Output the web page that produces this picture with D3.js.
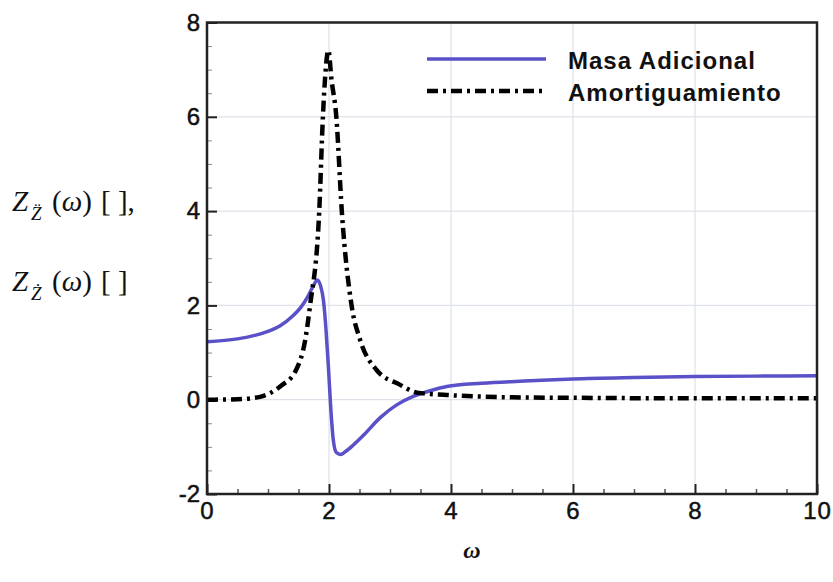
<!DOCTYPE html>
<html>
<head>
<meta charset="utf-8">
<script src="https://cdn.jsdelivr.net/npm/d3@7"></script>
<style>
  body { margin: 0; background: #fff; }
  svg { display: block; }
</style>
</head>
<body>
<svg id="chart"></svg>
<script>
// datos
const omegaMasa = [0, 0.5, 0.8, 1.0, 1.2, 1.4, 1.55, 1.65, 1.73, 1.81, 1.86, 1.91, 1.95, 1.99, 2.03, 2.07, 2.12, 2.19, 2.27, 2.4, 2.56, 2.84, 3.11, 3.38, 3.66, 3.93, 4.5, 5.3, 6, 7, 8, 9, 10];
const masaAdicional = [1.23, 1.29, 1.37, 1.45, 1.57, 1.77, 1.98, 2.18, 2.38, 2.54, 2.42, 2.1, 1.5, 0.7, -0.2, -0.85, -1.12, -1.16, -1.1, -0.96, -0.76, -0.38, -0.11, 0.07, 0.19, 0.28, 0.35, 0.4, 0.44, 0.47, 0.49, 0.5, 0.51];

const omegaAmort = [0, 0.5, 0.87, 1.05, 1.22, 1.46, 1.61, 1.69, 1.84, 1.9, 1.94, 1.99, 2.04, 2.12, 2.21, 2.37, 2.51, 2.78, 3.16, 3.44, 3.93, 5, 6, 8, 10];
const amortiguamiento = [0, 0.01, 0.06, 0.15, 0.3, 0.63, 1.27, 2.0, 4.0, 6.0, 6.9, 7.41, 6.8, 6.0, 4.0, 2.0, 1.27, 0.63, 0.32, 0.15, 0.1, 0.05, 0.04, 0.03, 0.03];

const xTicks = [0, 2, 4, 6, 8, 10];
const yTicks = [-2, 0, 2, 4, 6, 8];
const seriesNames = ["Masa Adicional", "Amortiguamiento"];

const width = 833;
const height = 582;
const margin = { top: 22.5, right: 16, bottom: 88, left: 207 };

const svg = d3.select("#chart").attr("width", width).attr("height", height);
svg.append("rect").attr("width", width).attr("height", height).attr("fill", "#fff");

const x = d3.scaleLinear().domain([0, 10]).range([margin.left, width - margin.right]);
const y = d3.scaleLinear().domain([-2, 8]).range([height - margin.bottom, margin.top]);

const blue = "#5a50c8";
const dashDot = "11,5,3,5";
const fmt = d => String(d); // guion normal, no signo menos

// rejilla
const grid = svg.append("g").attr("stroke", "#dde2e8").attr("stroke-width", 1.2);
grid.selectAll(".gx").data(xTicks.slice(1, -1)).join("line")
  .attr("x1", d => x(d)).attr("x2", d => x(d))
  .attr("y1", y(8)).attr("y2", y(-2));
grid.selectAll(".gy").data(yTicks.slice(1, -1)).join("line")
  .attr("x1", x(0)).attr("x2", x(10))
  .attr("y1", d => y(d)).attr("y2", d => y(d));

// ticks menores
const minorX = d3.range(0.5, 10, 0.5).filter(v => v % 2 !== 0);
const minorY = d3.range(-1.5, 8, 0.5).filter(v => v % 2 !== 0);

svg.append("g")
  .attr("transform", `translate(0,${y(-2)})`)
  .call(d3.axisBottom(x).tickValues(minorX).tickSize(-5).tickFormat(""))
  .call(g => g.select(".domain").remove())
  .call(g => g.selectAll("line").attr("stroke", "#555").attr("stroke-width", 1.5));

svg.append("g")
  .attr("transform", `translate(${x(0)},0)`)
  .call(d3.axisLeft(y).tickValues(minorY).tickSize(-5).tickFormat(""))
  .call(g => g.select(".domain").remove())
  .call(g => g.selectAll("line").attr("stroke", "#888").attr("stroke-width", 1));

// ejes principales
const tickText = g => g.selectAll("text")
  .attr("fill", "#111")
  .attr("stroke", "#111")
  .attr("stroke-width", 0.5)
  .style("font-family", "'Liberation Sans', Arial, sans-serif")
  .style("font-size", "24px");

svg.append("g")
  .attr("transform", `translate(0,${y(-2)})`)
  .call(d3.axisBottom(x).tickValues(xTicks).tickSize(-10).tickPadding(8).tickFormat(fmt))
  .call(g => g.select(".domain").remove())
  .call(g => g.selectAll("line").attr("stroke", "#222").attr("stroke-width", 2))
  .call(tickText)
  .call(g => g.selectAll("text").style("letter-spacing", "1px"));

svg.append("g")
  .attr("transform", `translate(${x(0)},0)`)
  .call(d3.axisLeft(y).tickValues(yTicks).tickSize(-10).tickPadding(7).tickFormat(fmt))
  .call(g => g.select(".domain").remove())
  .call(g => g.selectAll("line").attr("stroke", "#222").attr("stroke-width", 2))
  .call(tickText);

// curvas
const lineMasa = d3.line()
  .x((d, i) => x(omegaMasa[i]))
  .y(d => y(d))
  .curve(d3.curveMonotoneX);

const lineAmort = d3.line()
  .x((d, i) => x(omegaAmort[i]))
  .y(d => y(d))
  .curve(d3.curveMonotoneX);

svg.append("path")
  .datum(masaAdicional)
  .attr("d", lineMasa)
  .attr("fill", "none")
  .attr("stroke", blue)
  .attr("stroke-width", 3.5)
  .attr("stroke-linejoin", "round");

svg.append("path")
  .datum(amortiguamiento)
  .attr("d", lineAmort)
  .attr("fill", "none")
  .attr("stroke", "#000")
  .attr("stroke-width", 4.5)
  .attr("stroke-dasharray", dashDot);

// marco
svg.append("rect")
  .attr("x", x(0)).attr("y", y(8))
  .attr("width", x(10) - x(0)).attr("height", y(-2) - y(8))
  .attr("fill", "none")
  .attr("stroke", "#222")
  .attr("stroke-width", 2.5);

// leyenda
const legend = svg.append("g").attr("transform", "translate(427,59)");
const legendItems = legend.selectAll("g").data(seriesNames).join("g")
  .attr("transform", (d, i) => `translate(0,${i * 32})`);

legendItems.append("line")
  .attr("x1", 0).attr("x2", 119)
  .attr("stroke", (d, i) => i === 0 ? blue : "#000")
  .attr("stroke-width", (d, i) => i === 0 ? 3.5 : 4.5)
  .attr("stroke-dasharray", (d, i) => i === 0 ? null : dashDot);

legendItems.append("text")
  .attr("x", 141)
  .attr("y", 10)
  .attr("fill", "#111")
  .style("font-family", "'Liberation Sans', Arial, sans-serif")
  .style("font-size", "24px")
  .style("font-weight", "bold")
  .style("letter-spacing", "1px")
  .text(d => d);

// etiquetas de los ejes
const serif = "'Liberation Serif', 'DejaVu Serif', serif";

function yLabel(baseline, sub, comma) {
  const t = svg.append("text")
    .attr("y", baseline)
    .attr("fill", "#111")
    .style("font-family", serif)
    .style("font-size", "29px");
  t.append("tspan").attr("x", 12).style("font-style", "italic").text("Z");
  t.append("tspan").attr("x", 31).attr("dy", 9).style("font-style", "italic").style("font-size", "19px").text(sub);
  t.append("tspan").attr("x", 52).attr("dy", -9).text("(");
  t.append("tspan").style("font-style", "italic").text("ω");
  t.append("tspan").text(")");
  t.append("tspan").attr("x", 101).text(comma ? "[ ]," : "[ ]");
}
yLabel(211, "Z\u0308", true);
yLabel(291, "Z\u0307", false);

svg.append("text")
  .attr("x", 472)
  .attr("y", 558)
  .attr("text-anchor", "middle")
  .attr("fill", "#111")
  .style("font-family", serif)
  .style("font-size", "24px")
  .style("font-style", "italic")
  .style("font-weight", "bold")
  .text("ω");
</script>
</body>
</html>
